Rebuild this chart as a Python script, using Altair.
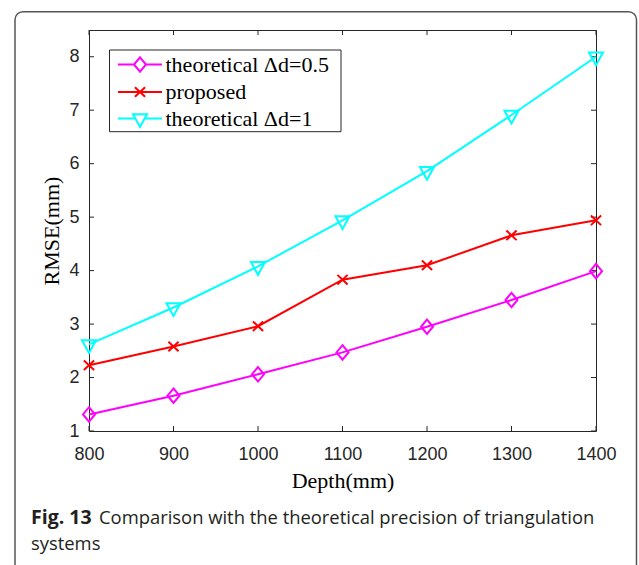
import altair as alt
import pandas as pd

# ---------------- data ----------------
depth = [800, 900, 1000, 1100, 1200, 1300, 1400]
theo_05 = [1.31, 1.66, 2.06, 2.47, 2.95, 3.45, 3.99]
proposed = [2.23, 2.58, 2.96, 3.83, 4.10, 4.66, 4.94]
theo_1 = [2.62, 3.31, 4.08, 4.94, 5.86, 6.91, 8.00]
series_names = ["theoretical \u0394d=0.5", "proposed", "theoretical \u0394d=1"]
series_colors = ["#FF00FF", "#FF0000", "#00FFFF"]
x_ticks = [800, 900, 1000, 1100, 1200, 1300, 1400]
y_ticks = [1, 2, 3, 4, 5, 6, 7, 8]
x_title = "Depth(mm)"
y_title = "RMSE(mm)"
caption_bold = "Fig. 13"
caption_line1 = "Comparison with the theoretical precision of triangulation"
caption_line2 = "systems"

# ---------------- styling ----------------
W, H = 507, 401
marker_paths = [
    "M0,-1.2L1,0L0,1.2L-1,0Z",                      # diamond
    "M-0.85,-0.8L0.85,0.8M-0.85,0.8L0.85,-0.8",     # x
    "M-1.17,-0.7L1.17,-0.7L0,1.42Z",                # triangle down
]
legend_paths = [
    "M-3.67,0L-1,0M1,0L3.67,0M0,-1.2L1,0L0,1.2L-1,0Z",
    "M-3.67,0L3.67,0M-0.85,-0.8L0.85,0.8M-0.85,0.8L0.85,-0.8",
    "M-3.67,0L-0.78,0M0.78,0L3.67,0M-1.17,-0.7L1.17,-0.7L0,1.42Z",
]

values = [theo_05, proposed, theo_1]
frames = []
for name, vals in zip(series_names, values):
    frames.append(pd.DataFrame({"depth": depth, "rmse": vals, "series": name}))
df = pd.concat(frames, ignore_index=True)

x_scale = alt.Scale(domain=[800, 1400], nice=False, zero=False)
y_scale = alt.Scale(domain=[1, 8.5], nice=False, zero=False)

x_axis = alt.Axis(values=x_ticks, format="d", labelPadding=28.5, labelBaseline="alphabetic",
                  labelFlush=False,
                  title=x_title, titleX=253.5, titleY=56, titleBaseline="alphabetic",
                  titleAlign="center")
y_axis = alt.Axis(values=y_ticks, format="d", labelPadding=10, labelFlush=False,
                  title=y_title,
                  titleAngle=-90, titleX=-31, titleY=200.5, titleBaseline="alphabetic",
                  titleAlign="center")

X = alt.X("depth:Q", scale=x_scale, axis=x_axis)
Y = alt.Y("rmse:Q", scale=y_scale, axis=y_axis)

layers = []

one = pd.DataFrame({"a": [0]})
frame = alt.Chart(one).mark_rect(cornerRadius=8, fillOpacity=0, stroke="#555555",
                                 strokeWidth=1.5).encode(
    x=alt.value(-74), x2=alt.value(547.5), y=alt.value(-18.3), y2=alt.value(560))
layers.append(frame)

# inward ticks
xt = pd.DataFrame({"t": x_ticks})
yt = pd.DataFrame({"t": y_ticks})
tick_style = dict(color="#262626", strokeWidth=1)
layers.append(alt.Chart(xt).mark_rule(**tick_style).encode(
    x=alt.X("t:Q", scale=x_scale, axis=x_axis), y=alt.value(H), y2=alt.value(H - 5)))
layers.append(alt.Chart(xt).mark_rule(**tick_style).encode(
    x=alt.X("t:Q", scale=x_scale, axis=x_axis), y=alt.value(0), y2=alt.value(5)))
layers.append(alt.Chart(yt).mark_rule(**tick_style).encode(
    y=alt.Y("t:Q", scale=y_scale, axis=y_axis), x=alt.value(0), x2=alt.value(5)))
layers.append(alt.Chart(yt).mark_rule(**tick_style).encode(
    y=alt.Y("t:Q", scale=y_scale, axis=y_axis), x=alt.value(W), x2=alt.value(W - 5)))

for name, col, path in zip(series_names, series_colors, marker_paths):
    sub = df[df["series"] == name]
    layers.append(alt.Chart(sub).mark_line(color=col, strokeWidth=2).encode(x=X, y=Y))
    layers.append(alt.Chart(sub).mark_point(shape=path, filled=False, color=col, size=144,
                                            strokeWidth=2, opacity=1).encode(x=X, y=Y))

# legend box (white, bordered) drawn under the legend entries
legend_box = alt.Chart(one).mark_rect(fill="white", stroke="#262626", strokeWidth=1).encode(
    x=alt.value(20.5), x2=alt.value(252), y=alt.value(20), y2=alt.value(101.7))
layers.append(legend_box)

legend = alt.Legend(orient="none", legendX=21, legendY=20, title=None, direction="vertical",
                    padding=3.5, strokeColor="transparent", fillColor="transparent",
                    labelFont="Liberation Serif", labelFontSize=22, labelColor="black",
                    labelBaseline="middle", symbolSize=144, symbolStrokeWidth=2,
                    symbolOffset=15.5, labelOffset=14.5, rowPadding=4.5, labelLimit=0)
legend_layer = alt.Chart(df).transform_filter("false").mark_point(
    filled=False, size=144, strokeWidth=2, opacity=1).encode(
    x=X, y=Y,
    color=alt.Color("series:N", scale=alt.Scale(domain=series_names, range=series_colors),
                    legend=legend),
    shape=alt.Shape("series:N", scale=alt.Scale(domain=series_names, range=legend_paths),
                    legend=legend),
)
layers.append(legend_layer)

cap_style = dict(align="left", baseline="alphabetic", font="Open Sans", color="#231f20")
layers.append(alt.Chart(one).mark_text(text=caption_bold, fontWeight="bold", fontSize=19.5,
                                       **cap_style)
              .encode(x=alt.value(-58), y=alt.value(494)))
layers.append(alt.Chart(one).mark_text(text=caption_line1, fontSize=18.4, **cap_style)
              .encode(x=alt.value(10), y=alt.value(494)))
layers.append(alt.Chart(one).mark_text(text=caption_line2, fontSize=18.4, **cap_style)
              .encode(x=alt.value(-58), y=alt.value(520)))

chart = alt.layer(*layers).properties(
    width=W, height=H,
    padding={"left": 89, "top": 30, "right": 43, "bottom": 134},
    autosize=alt.AutoSizeParams(type="none"),
).configure_view(stroke="#262626", strokeWidth=1).configure_axis(
    grid=False, domain=False, ticks=False, tickSize=0,
    labelFont="Liberation Sans", labelFontSize=18, labelColor="#262626",
    titleFont="Liberation Serif", titleFontSize=22, titleColor="#000000",
    titleFontWeight="normal",
)

chart.save("out.html", embed_options={"renderer": "svg", "actions": False})
